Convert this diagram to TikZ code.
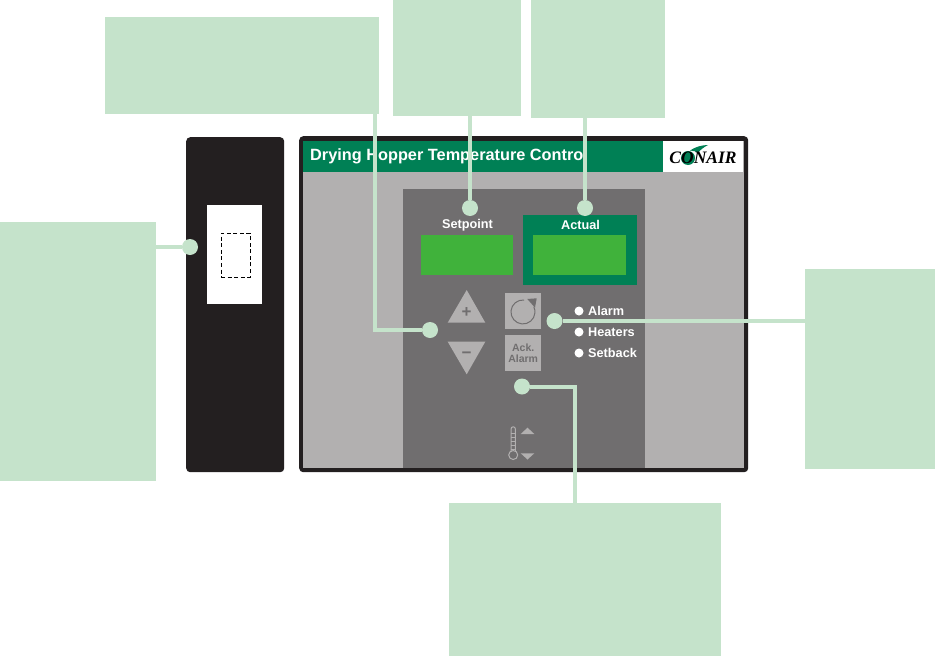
\documentclass[tikz,border=0pt]{standalone}
\usepackage{fontspec}
\setmainfont{Liberation Sans}
\newfontfamily\logofont{Liberation Serif}
\usepackage{xcolor}
\usetikzlibrary{positioning,calc}
\definecolor{pale}{HTML}{C5E3CB}
\definecolor{casing}{HTML}{231F20}
\definecolor{lightpanel}{HTML}{B2B0B0}
\definecolor{darkpanel}{HTML}{706E6F}
\definecolor{forest}{HTML}{008055}
\definecolor{lcd}{HTML}{40B23B}
\tikzset{
  calloutbox/.style={fill=pale, draw=none, anchor=north west, inner sep=0pt},
  panelbox/.style={anchor=north west, inner sep=0pt, draw=none},
  lcdbox/.style={panelbox, fill=lcd, minimum height=40pt},
  keybox/.style={panelbox, fill=lightpanel, minimum width=36pt, minimum height=36pt},
  leaddot/.style={circle, fill=pale, minimum size=16pt, inner sep=0pt},
  leadline/.style={draw=pale, line width=4pt},
  ledlamp/.style={circle, fill=white, minimum size=9pt, inner sep=0pt},
  paneltext/.style={text=white, font=\fontsize{12.7}{12.7}\selectfont\bfseries, inner sep=0pt},
  ledtext/.style={paneltext, anchor=west},
  keymark/.style={draw=lightpanel, line width=1pt},
  keyshape/.style={fill=lightpanel, draw=none}
}
\begin{document}
\begin{tikzpicture}[x=1pt, y=-1pt]
  \useasboundingbox (0,0) rectangle (935,656);
  \fill[white] (0,0) rectangle (935,656);
  % casing
  \node[panelbox, fill=casing, rounded corners=4pt, minimum width=98pt, minimum height=335pt] (sidecase) at (186,137) {};
  \node[panelbox, fill=white, minimum width=55pt, minimum height=99pt] (sidelabel) at (207,205) {};
  \node[panelbox, draw=black, dash pattern=on 4pt off 2.6pt, line width=1pt, minimum width=29pt, minimum height=44pt] (breaker) at (220.5,232.5) {};
  \node[panelbox, fill=casing, rounded corners=4pt, minimum width=449pt, minimum height=336pt] (maincase) at (299,136) {};
  \node[panelbox, fill=lightpanel, minimum width=441pt, minimum height=327pt] (face) at (303,141) {};
  \node[panelbox, fill=forest, minimum width=360pt, minimum height=31pt] (header) at (303,141) {};
  \node[panelbox, fill=white, minimum width=80pt, minimum height=31pt] (logobox) at (663,141) {};
  \node[panelbox, fill=darkpanel, minimum width=242pt, minimum height=279pt] (inset) at (403,189) {};
  \node[anchor=west, inner sep=0pt, text=white, font=\fontsize{16.3}{16}\selectfont\bfseries] (title) at (310,156) {Drying Hopper Temperature Control};
  % logo
  \fill[forest] (688,158) circle (7pt);
  \fill[forest] (690,150.5) .. controls (695,147) and (702,145) .. (708,145) .. controls (704,147) and (700,150) .. (698,153) .. controls (696,151.5) and (693,150.5) .. (690,150.5) -- cycle;
  \node[inner sep=0pt, font=\logofont\fontsize{17.5}{17.5}\selectfont\bfseries\itshape, text=black] (logotext) at (703,158) {CONAIR};
  % displays
  \node[lcdbox, minimum width=92pt] (setlcd) at (421,235) {};
  \node[panelbox, fill=forest, minimum width=114pt, minimum height=70pt] (actualframe) at (523,215) {};
  \node[lcdbox, minimum width=93pt] (actuallcd) at (533,235) {};
  \node[paneltext] (settext) at (467.5,225) {Setpoint};
  \node[paneltext] (actualtext) at (580.5,225) {Actual};
  % keys
  \fill[keyshape] (466.7,290) -- (485.3,322.7) -- (447.7,322.7) -- cycle;
  \fill[keyshape] (466.7,374.3) -- (485.3,341.7) -- (447.7,341.7) -- cycle;
  \node[inner sep=0pt, text=darkpanel, font=\fontsize{17}{17}\selectfont\bfseries] (plusmark) at (466.7,313) {+};
  \node[inner sep=0pt, text=darkpanel, font=\fontsize{17}{17}\selectfont\bfseries] (minusmark) at (466.7,355.5) {−};
  \node[keybox] (resetkey) at (505,293) {};
  \draw[draw=darkpanel, line width=1pt] (524,300) arc (85:385:12pt);
  \fill[darkpanel] (527.3,299) -- (536.7,298.3) -- (535,307.7) -- cycle;
  \node[keybox, text=darkpanel, align=center, font=\fontsize{10.5}{11.5}\selectfont\bfseries] (ackkey) at (505,335) {Ack.\\Alarm};
  % lamps
  \foreach \lampname/\lamptext/\lampy in {alarm/Alarm/311, heaters/Heaters/332, setback/Setback/353} {
    \node[ledlamp] (\lampname lamp) at (579,\lampy) {};
    \node[ledtext] (\lampname text) at (588,\lampy) {\lamptext};
  }
  % thermometer
  \draw[keymark] (511,452) -- (511,429) arc (180:0:2.2pt) -- (515.4,452);
  \node[circle, draw=lightpanel, fill=darkpanel, line width=1pt, minimum size=9pt, inner sep=0pt] (thermobulb) at (513.2,455) {};
  \foreach \ticky in {433,437,441,445,449} {
    \draw[keymark, line width=0.6pt] (511,\ticky) -- (515.4,\ticky);
  }
  \fill[keyshape] (527.5,427.7) -- (534.3,434) -- (520.7,434) -- cycle;
  \fill[keyshape] (527.5,459.5) -- (534.3,453.3) -- (520.7,453.3) -- cycle;
  % callouts
  \node[calloutbox, minimum width=274pt, minimum height=97pt] (keysnote) at (105,17) {};
  \node[calloutbox, minimum width=128pt, minimum height=116pt] (setnote) at (393,0) {};
  \node[calloutbox, minimum width=134pt, minimum height=118pt] (actualnote) at (531,0) {};
  \node[calloutbox, minimum width=156pt, minimum height=259pt] (breakernote) at (0,222) {};
  \node[calloutbox, minimum width=130pt, minimum height=200pt] (lampnote) at (805,269) {};
  \node[calloutbox, minimum width=272pt, minimum height=153pt] (acknote) at (449,503) {};
  \node[leaddot] (breakerdot) at (190,247) {};
  \node[leaddot] (keysdot) at (430,330) {};
  \node[leaddot] (setdot) at (470,208) {};
  \node[leaddot] (actualdot) at (585,208) {};
  \node[leaddot] (lampdot) at (554.5,321) {};
  \node[leaddot] (ackdot) at (522,386.5) {};
  \coordinate (keysturn) at (375,330);
  \coordinate (ackturn) at (575,386.5);
  \draw[leadline] (breakerdot) -- (breakernote.east |- breakerdot);
  \draw[leadline] (keysnote.south -| keysturn) -- (keysturn) -- (keysdot);
  \draw[leadline] (setdot) -- (setdot |- setnote.south);
  \draw[leadline] (actualdot) -- (actualdot |- actualnote.south);
  \draw[leadline] (lampdot) -- (lampdot -| lampnote.west);
  \draw[leadline] (ackdot) -- (ackturn) -- (ackturn |- acknote.north);
\end{tikzpicture}
\end{document}
